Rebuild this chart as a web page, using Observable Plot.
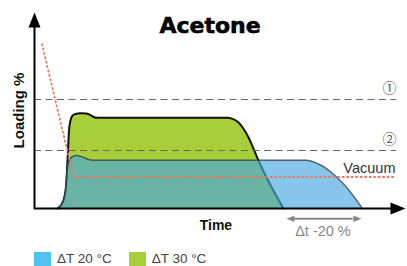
<!DOCTYPE html>
<html>
<head>
<meta charset="utf-8">
<script src="https://cdn.jsdelivr.net/npm/d3@7"></script>
<script src="https://cdn.jsdelivr.net/npm/@observablehq/plot@0.6"></script>
<style>
  html, body { margin: 0; padding: 0; background: #fff; }
  #wrap { position: relative; width: 407px; height: 266px; overflow: hidden; font-family: "Liberation Sans", Arial, sans-serif; }
  #legend { position: absolute; left: 34px; top: 251px; display: flex; align-items: center; font-size: 13.5px; color: #444; }
  .sw { width: 17px; height: 14px; display: inline-block; margin-right: 6px; }
  .item { display: flex; align-items: center; margin-right: 17px; }
</style>
</head>
<body>
<div id="wrap"><div id="chart"></div><div id="legend"></div></div>
<script>
// ---- data (time in arbitrary units 0-100, loading in %) ----
const seriesNames = ["ΔT 20 °C", "ΔT 30 °C"];
const seriesColors = ["#4dc3f2", "#a8cf3a"];

const t30 = [6.2, 7.28, 8.09, 8.49, 8.76, 9.03, 9.3, 9.7, 10.24, 11.05, 12.4, 14.0, 15.1, 15.9, 17.0, 51.75, 53.4, 55.0, 56.3, 57.7, 58.8, 59.8, 60.6, 67.1];
const load30 = [0, 2.04, 6.12, 11.2, 19.4, 29.6, 39.8, 44.9, 47.4, 48.2, 48.6, 48.5, 47.7, 46.7, 46.3, 46.3, 45.7, 43.9, 40.8, 36.2, 31.6, 27.0, 23.5, 0];

const t20 = [6.2, 7.28, 8.09, 8.49, 8.76, 9.03, 9.57, 10.24, 11.32, 12.4, 13.48, 14.56, 15.63, 73.05, 74.93, 77.09, 79.25, 81.4, 83.56, 85.44, 87.06, 88.4];
const load20 = [0, 2.04, 6.12, 11.2, 18.4, 22.4, 25.3, 26.4, 27.0, 26.6, 25.9, 25.0, 24.6, 24.6, 24.0, 22.2, 19.6, 16.1, 12.0, 7.65, 3.57, 0];

const vacT = [2.02, 10.24, 10.5, 10.78, 97.3];
const vacLoad = [83.9, 18.4, 17.0, 16.07, 16.07];

const levelNames = ["①", "②"];
const levelValues = [55.6, 29.6];

const deltaLabel = "Δt -20 %";
const title = "Acetone";
const xLabel = "Time";
const yLabel = "Loading %";
const vacuumLabel = "Vacuum";

// ---- build tables ----
const green = t30.map((t, i) => ({t, v: load30[i]}));
const blue = t20.map((t, i) => ({t, v: load20[i]}));
const vac = vacT.map((t, i) => ({t, v: vacLoad[i]}));
const levels = levelValues.map((v, i) => ({v, name: levelNames[i]}));
const greenEnd = t30[t30.length - 1];
const blueEnd = t20[t20.length - 1];

const head = {
  draw(ctx, size) {
    const r = Math.sqrt(size / Math.PI);
    ctx.moveTo(0, -r);
    ctx.lineTo(0.8 * r, r);
    ctx.lineTo(-0.8 * r, r);
    ctx.closePath();
  }
};

const chart = Plot.plot({
  width: 407,
  height: 246,
  marginLeft: 34,
  marginRight: 2,
  marginTop: 12,
  marginBottom: 38,
  x: {domain: [0, 100], axis: null},
  y: {domain: [0, 100], axis: null},
  style: {fontFamily: "'Liberation Sans', Arial, sans-serif", background: "#fff", overflow: "visible"},
  marks: [
    // areas
    Plot.areaY(green, {x: "t", y: "v", fill: seriesColors[1], curve: "monotone-x"}),
    Plot.lineY(green, {x: "t", y: "v", stroke: "#111", strokeWidth: 2, curve: "monotone-x"}),
    Plot.areaY(blue, {x: "t", y: "v", fill: "#48a6df", fillOpacity: 0.65, curve: "monotone-x"}),
    Plot.lineY(blue, {x: "t", y: "v", stroke: "#333", strokeOpacity: 0.7, strokeWidth: 1.5, curve: "monotone-x"}),
    // reference levels
    Plot.ruleY(levels, {y: "v", x1: 0, x2: 97.6, stroke: "#666", strokeWidth: 1.1, strokeDasharray: "7,4.5"}),
    Plot.text(levels, {x: 95.7, y: "v", dy: -11, text: "name", fontSize: 14, fill: "#555", fontFamily: "'Noto Sans CJK JP', 'DejaVu Sans', sans-serif"}),
    // vacuum
    Plot.line(vac, {x: "t", y: "v", stroke: "#e57a66", strokeWidth: 1.8, strokeDasharray: "1.3,3.2"}),
    Plot.text([vacuumLabel], {x: 97.3, y: 18.2, text: d => d, textAnchor: "end", lineAnchor: "bottom", fontSize: 14.5, fill: "#333"}),
    // axes
    Plot.ruleY([0], {x1: 0, x2: 97, stroke: "#000", strokeWidth: 2}),
    Plot.ruleX([0], {y1: -0.5, y2: 95, stroke: "#000", strokeWidth: 2}),
    Plot.dot([0], {x: 0, y: 100, dy: 7.5, r: 7.5, symbol: head, fill: "#000", stroke: "none"}),
    Plot.dot([0], {x: 100, y: 0, dx: -7.5, r: 7.5, symbol: head, fill: "#000", stroke: "none", rotate: 90}),
    // delta arrow
    Plot.ruleY([-5.25], {x1: greenEnd + 2.5, x2: blueEnd - 2.5, stroke: "#888", strokeWidth: 2}),
    Plot.dot([0], {x: greenEnd + 0.8, y: -5.25, dx: 4, r: 4, symbol: head, fill: "#888", stroke: "none", rotate: -90}),
    Plot.dot([0], {x: blueEnd - 0.3, y: -5.25, dx: -4, r: 4, symbol: head, fill: "#888", stroke: "none", rotate: 90}),
    Plot.text([deltaLabel], {x: (greenEnd + blueEnd) / 2, y: -14.1, text: d => d, lineAnchor: "bottom", fontSize: 14.5, fill: "#888"}),
    // labels
    Plot.text([xLabel], {x: 48.9, y: -10.9, text: d => d, lineAnchor: "bottom", fontSize: 14, fontWeight: "bold", fill: "#111"}),
    Plot.text([yLabel], {x: -4.18, y: 50, text: d => d, rotate: -90, fontSize: 15, fontWeight: "bold", fill: "#111"}),
    Plot.text([title], {x: 47.3, y: 89.3, text: d => d, lineAnchor: "bottom", fontSize: 22, fontWeight: "bold", fill: "#000", stroke: "#000", strokeWidth: 0.6, fontFamily: "'DejaVu Sans', sans-serif", letterSpacing: "1.5px"})
  ]
});
document.getElementById("chart").appendChild(chart);

// legend
const legend = document.getElementById("legend");
seriesNames.forEach((name, i) => {
  const item = document.createElement("div");
  item.className = "item";
  const sw = document.createElement("span");
  sw.className = "sw";
  sw.style.background = seriesColors[i];
  item.appendChild(sw);
  item.appendChild(document.createTextNode(name));
  legend.appendChild(item);
});
</script>
</body>
</html>
